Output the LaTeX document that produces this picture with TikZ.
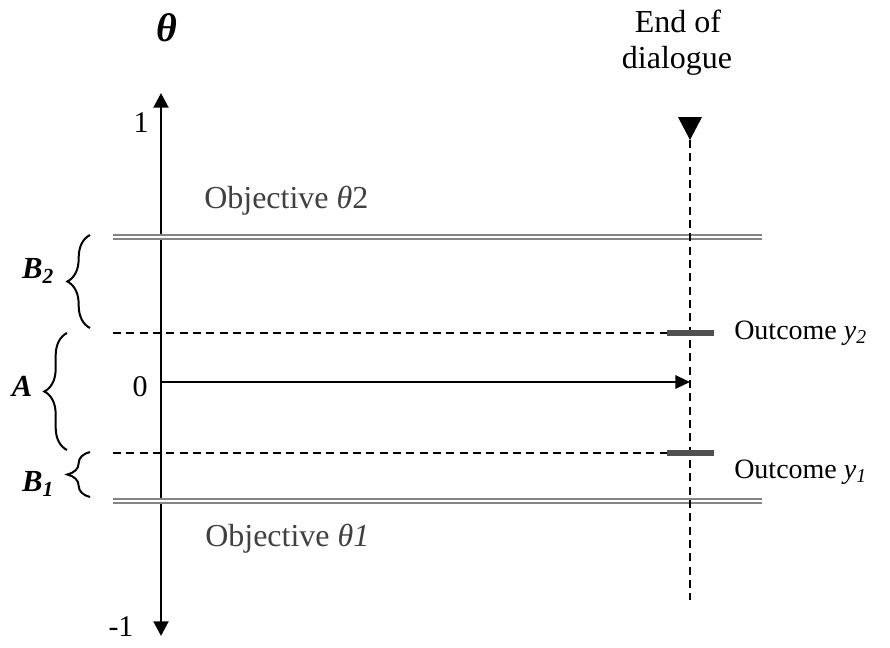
\documentclass[tikz,border=0pt]{standalone}
\usepackage{fontspec}
\setmainfont{Liberation Serif}
\usetikzlibrary{arrows.meta,decorations.pathreplacing,calc}
\definecolor{objgray}{HTML}{404040}
\definecolor{linegray}{HTML}{858585}
\definecolor{bargray}{HTML}{505050}
\begin{document}
\begin{tikzpicture}[x=0.75pt,y=-0.75pt,
  axisline/.style={line width=2.2pt,{Triangle[width=11pt,length=11pt]}-{Triangle[width=11pt,length=11pt]}},
  flowarrow/.style={line width=1.6pt,-{Triangle[width=10pt,length=11pt]}},
  dashline/.style={line width=1.3pt,dash pattern=on 6pt off 4pt},
  objline/.style={draw=linegray,line width=1.5pt,double=white,double distance=2.2pt},
  outbar/.style={draw=bargray,line width=4.5pt},
  bracestyle/.style={decorate,decoration={brace,amplitude=17pt},line width=1.5pt},
  biglabel/.style={font=\fontsize{24}{28}\selectfont,inner sep=0pt},
  objlabel/.style={font=\fontsize{24}{28}\selectfont,text=objgray,inner sep=0pt,anchor=base west},
  outlabel/.style={font=\fontsize{21}{24}\selectfont,inner sep=0pt,anchor=base west},
  numlabel/.style={font=\fontsize{22.5}{26}\selectfont,inner sep=0pt},
  setlabel/.style={font=\fontsize{23}{26}\selectfont\bfseries\itshape,inner sep=0pt},
]
\useasboundingbox (0,0) rectangle (890,647);

% axis
\coordinate (axtop) at (161,93);
\coordinate (axbot) at (161,636);
\draw[axisline] (axbot) -- (axtop);
\node[font=\fontsize{30}{32}\selectfont\bfseries\itshape,inner sep=0pt] (theta) at (167,28) {θ};
\node[numlabel] (one) at (141,123) {1};
\node[numlabel] (mone) at (121,627) {-1};
\node[numlabel] (zero) at (140,387) {0};

% objective lines
\coordinate (o2l) at (113,237);
\coordinate (o2r) at (762,237);
\coordinate (o1l) at (113,501);
\coordinate (o1r) at (762,501);
\draw[objline] (o2l) -- (o2r);
\draw[objline] (o1l) -- (o1r);
\node[objlabel] (obj2) at (204,208) {Objective {\itshape θ}2};
\node[objlabel] (obj1) at (205,546) {Objective {\itshape θ1}};

% end of dialogue
\node[biglabel,anchor=base] (endtxt) at (678,32) {End of};
\node[biglabel,anchor=base] (dialtxt) at (677,68) {dialogue};
\coordinate (endtip) at (690,140);
\coordinate (endbot) at (690,600);
\fill ($(endtip)+(-12,-23)$) -- ($(endtip)+(12,-23)$) -- (endtip) -- cycle;
\draw[dashline] (endtip) -- (endbot);

% dashed thresholds
\coordinate (d2l) at (113,333);
\coordinate (d2r) at (668,333);
\coordinate (d1l) at (113,453);
\coordinate (d1r) at (668,453);
\draw[dashline] (d2l) -- (d2r);
\draw[dashline] (d1l) -- (d1r);

% outcome bars
\coordinate (b2l) at (667,333);
\coordinate (b2r) at (714,333);
\coordinate (b1l) at (667,453);
\coordinate (b1r) at (714,453);
\draw[outbar] (b2l) -- (b2r);
\draw[outbar] (b1l) -- (b1r);
\node[outlabel] (out2) at (734,339) {Outcome {\itshape y\textsubscript{2}}};
\node[outlabel] (out1) at (734,478) {Outcome {\itshape y\textsubscript{1}}};

% main arrow
\coordinate (origin) at (161,382);
\coordinate (arrend) at (690,382);
\draw[flowarrow] (origin) -- (arrend);

% braces
\coordinate (bB2bot) at (90,328);
\coordinate (bB2top) at (90,235);
\coordinate (bAbot) at (67,450);
\coordinate (bAtop) at (67,333);
\coordinate (bB1bot) at (90,497);
\coordinate (bB1top) at (90,452);
\draw[bracestyle] (bB2bot) -- (bB2top);
\draw[bracestyle] (bAbot) -- (bAtop);
\draw[bracestyle] (bB1bot) -- (bB1top);
\node[setlabel] (lB2) at (38,271) {B\textsubscript{2}};
\node[setlabel] (lA) at (22,386) {A};
\node[setlabel] (lB1) at (38,484) {B\textsubscript{1}};
\end{tikzpicture}
\end{document}
